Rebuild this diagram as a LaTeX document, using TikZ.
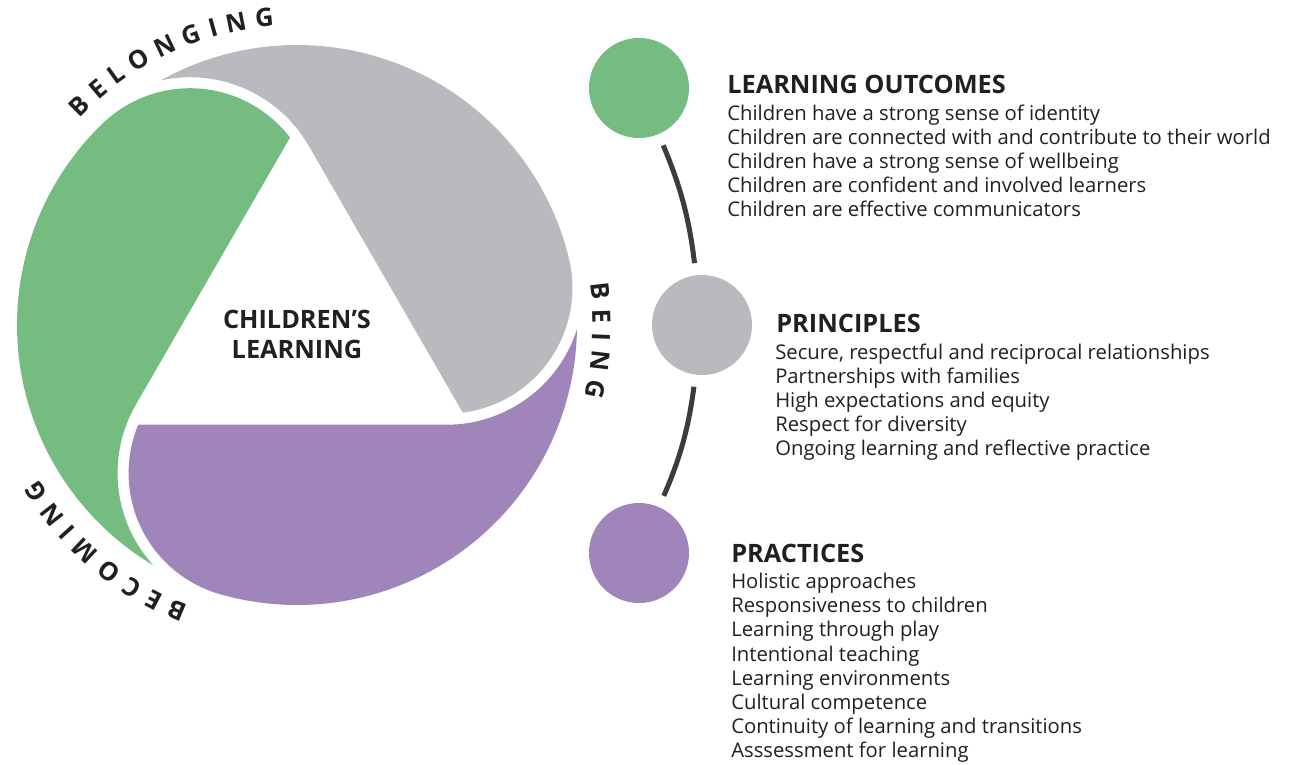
\documentclass[tikz,border=0pt]{standalone}
\usepackage{fontspec}
\setmainfont{Open Sans}
\definecolor{leafgreen}{HTML}{74BC80}
\definecolor{stonegrey}{HTML}{B9BABE}
\definecolor{lilac}{HTML}{A085BB}
\definecolor{inkgrey}{HTML}{231F20}
\definecolor{linegrey}{HTML}{3C3C3C}

\begin{document}
\begin{tikzpicture}[x=0.75pt,y=0.75pt]
\tikzstyle{blob}=[circle, minimum size=75pt, inner sep=0pt]
\tikzstyle{link}=[line width=3.75pt, draw=linegrey, shorten >=9pt, shorten <=9pt]
\tikzstyle{rimletter}=[font=\fontsize{19}{19}\selectfont\bfseries, text=inkgrey, inner sep=0pt]
\tikzstyle{head}=[font=\fontsize{19}{19}\selectfont\bfseries, text=inkgrey, anchor=base west, inner sep=0pt]
\tikzstyle{item}=[font=\fontsize{15.2}{15.2}\selectfont, text=inkgrey, anchor=base west, inner sep=0pt]

\useasboundingbox (-297,-439) rectangle (1005,325);

% three blades round the centre
\foreach \a/\c in {0/lilac, 120/stonegrey, 240/leafgreen} {
\fill[\c, rotate=\a] (-158.8,-99.74) -- (149.43,-99.74)
  arc[start angle=270, end angle=342.34, radius=137]
  arc[start angle=-0.88, end angle=-106, radius=280]
  arc[start angle=254, end angle=157.47, radius=126] -- cycle;
}
\node[font=\fontsize{19}{22.5}\selectfont\bfseries, align=center, text=inkgrey] (core) at (0,-9) {CHILDREN’S\\LEARNING};

% words round the rim
\foreach \ch/\ang [count=\i] in {B/134.9, E/130.16, L/125.77, O/120.86, N/115.36, G/110.03, I/105.78, N/101.41, G/96.08} {
\node[rimletter, rotate=\ang-90] (bel\i) at (\ang:309) {\ch};
}
\foreach \ch/\ang [count=\i] in {B/6.44, E/1.63, I/-2.32, N/-6.74, G/-12.14} {
\node[rimletter, rotate=\ang-90] (bei\i) at (\ang:305) {\ch};
}
\foreach \ch/\ang [count=\i] in {B/247.2, E/242.49, C/237.85, O/232.7, M/226.85, I/222.12, N/217.79, G/212.5} {
\node[rimletter, rotate=\ang-90] (bec\i) at (\ang:310) {\ch};
}

% the three circles
\node[blob, fill=leafgreen] (lo) at (342,237) {};
\node[blob, fill=stonegrey] (pr) at (405,0) {};
\node[blob, fill=lilac] (pc) at (342,-228) {};
\draw[link] (lo) to[bend left=8] (pr);
\draw[link] (pr) to[bend left=8] (pc);

% learning outcomes
\node[head] (loh) at (430,231) {LEARNING OUTCOMES};
\foreach \t [count=\i from 0] in {Children have a strong sense of identity,
  Children are connected with and contribute to their world,
  Children have a strong sense of wellbeing,
  Children are confident and involved learners,
  Children are effective communicators} {
\node[item] (lo\i) at (430,204.5-24*\i) {\t};
}

% principles
\node[head] (prh) at (479,-7) {PRINCIPLES};
\foreach \t [count=\i from 0] in {{Secure, respectful and reciprocal relationships},
  Partnerships with families,
  High expectations and equity,
  Respect for diversity,
  Ongoing learning and reflective practice} {
\node[item] (pr\i) at (478,-34.5-24*\i) {\t};
}

% practices
\node[head] (pch) at (434,-237) {PRACTICES};
\foreach \t [count=\i from 0] in {Holistic approaches,
  Responsiveness to children,
  Learning through play,
  Intentional teaching,
  Learning environments,
  Cultural competence,
  Continuity of learning and transitions,
  Asssessment for learning} {
\node[item] (pc\i) at (434,-263.5-24.2*\i) {\t};
}
\end{tikzpicture}
\end{document}
